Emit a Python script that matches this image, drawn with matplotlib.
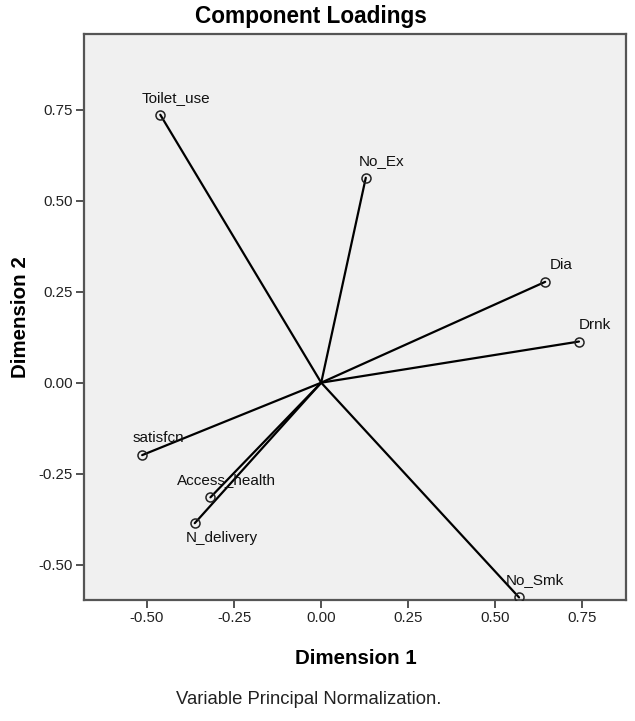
import matplotlib
matplotlib.use("Agg")
import matplotlib.pyplot as plt
from matplotlib import font_manager

# component loadings
names = ["Toilet_use", "No_Ex", "Dia", "Drnk", "satisfcn",
         "Access_health", "N_delivery", "No_Smk"]
dim1 = [-0.462, 0.128, 0.643, 0.740, -0.514, -0.318, -0.363, 0.568]
dim2 = [0.736, 0.563, 0.277, 0.113, -0.199, -0.315, -0.386, -0.590]
ticks = [-0.50, -0.25, 0.00, 0.25, 0.50, 0.75]

fam = "Liberation Sans"
have = {f.name for f in font_manager.fontManager.ttflist}
narrow = "Liberation Sans Narrow" if "Liberation Sans Narrow" in have else fam
plt.rcParams["font.family"] = [fam, "DejaVu Sans"]

fig = plt.figure(figsize=(6.35, 7.21), dpi=100)
ax = fig.add_axes([84/635, 1-600/721, 542/635, (600-34.3)/721])
ax.set_facecolor("#f0f0f0")

for x, y in zip(dim1, dim2):
    ax.plot([0, x], [0, y], color="black", lw=1.6, solid_capstyle="round", zorder=2)
ax.plot(dim1, dim2, "o", ms=6.5, mfc="none", mec="#222222", mew=1.1, zorder=3)

for n, x, y in zip(names, dim1, dim2):
    if n == "N_delivery":
        ax.annotate(n, (x, y), xytext=(27, -8), textcoords="offset pixels",
                    ha="center", va="top", fontsize=11, color="#111111")
    else:
        ax.annotate(n, (x, y), xytext=(16, 10), textcoords="offset pixels",
                    ha="center", va="bottom", fontsize=11, color="#111111")

ax.set_xlim(-0.681, 0.875)
ax.set_ylim(-0.597, 0.957)
ax.set_xticks(ticks)
ax.set_yticks(ticks)
ax.set_xticklabels([f"{t:.2f}" for t in ticks])
ax.set_yticklabels([f"{t:.2f}" for t in ticks])
ax.tick_params(direction="out", length=6, width=1.3, color="#444444",
               labelsize=10.8, labelcolor="#222222", pad=2)
for s in ax.spines.values():
    s.set_color("#555555")
    s.set_linewidth(1.6)

fig.text(310.5/635, 1-17/721, "Component Loadings", ha="center", va="center",
         fontsize=16.3, fontweight="bold")
fig.text(356/635, 1-658/721, "Dimension 1", ha="center", va="center",
         fontsize=14.8, fontweight="bold")
fig.text(21/635, 1-317/721, "Dimension 2", ha="center", va="center",
         rotation=90, fontsize=14.8, fontweight="bold")
fig.text(309/635, 1-700/721, "Variable Principal Normalization.", ha="center",
         va="center", fontsize=13.3 if narrow == fam else 14.5, family=[narrow, "DejaVu Sans"],
         color="#222222")

fig.savefig("out.png", dpi=100, facecolor="white")
